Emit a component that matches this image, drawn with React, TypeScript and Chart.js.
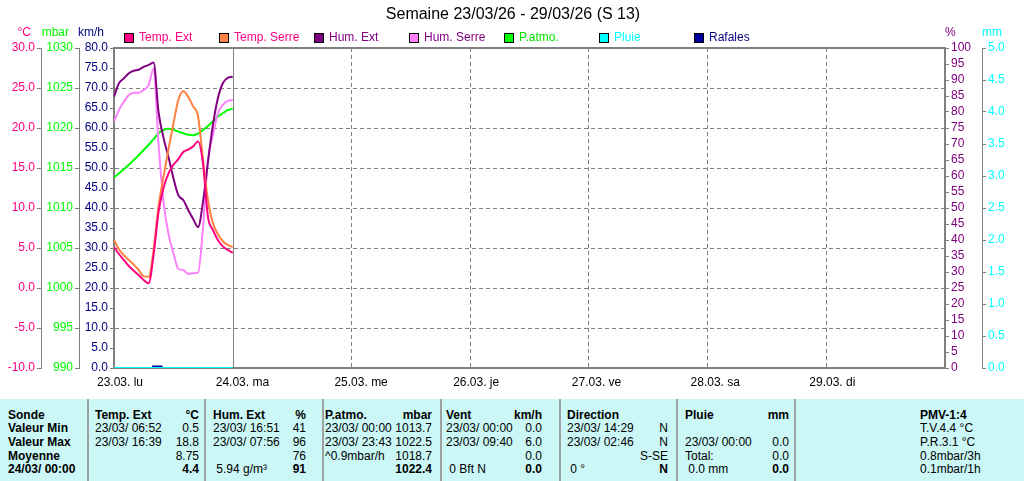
import React, { useEffect, useRef } from "react";
import { Chart, registerables } from "chart.js";

Chart.register(...registerables);

// ---------- data ----------
const chartTitle = "Semaine 23/03/26 - 29/03/26 (S 13)";
const dayLabels = ["23.03. lu", "24.03. ma", "25.03. me", "26.03. je", "27.03. ve", "28.03. sa", "29.03. di"];

const hours = [0, 1, 2, 3, 4, 5, 6, 7, 8, 9, 10, 11, 12, 13, 14, 15, 16, 17, 18, 19, 20, 21, 22, 23, 24];
const tempExt = [5.1, 4.25, 3.5, 2.75, 2.15, 1.6, 1.0, 0.6, 4.1, 9.5, 12.5, 14.3, 15.4, 16.1, 17.0, 17.3, 17.7, 18.3, 15.5, 8.9, 7.25, 6.0, 5.2, 4.75, 4.4];
const tempSerre = [6.0, 4.85, 4.1, 3.5, 2.9, 2.25, 1.45, 1.4, 4.75, 10.2, 13.9, 17.3, 20.5, 23.5, 24.6, 23.9, 22.7, 21.4, 16.0, 11.0, 8.1, 6.75, 5.85, 5.4, 5.1];
const humExt = [84.8, 89, 90.5, 92.1, 92.9, 93.2, 94.1, 94.7, 95.5, 80, 72, 66, 59.4, 54, 52.5, 49.4, 46.6, 44, 52, 64.5, 76, 84.3, 89, 90.7, 91];
const humSerre = [77, 80.6, 83.2, 85.3, 86, 86, 86.9, 88.4, 93.5, 70, 52, 42, 36, 31, 30.6, 29.4, 29.6, 29.8, 44, 65, 72.8, 79.6, 82.2, 83.5, 83.75];
const pAtmo = [1013.8, 1014.35, 1014.85, 1015.4, 1016.0, 1016.6, 1017.25, 1017.9, 1018.6, 1019.35, 1019.75, 1019.9, 1019.8, 1019.55, 1019.35, 1019.15, 1019.1, 1019.3, 1019.75, 1020.25, 1020.8, 1021.4, 1021.85, 1022.25, 1022.4];
const pluie = [0, 0, 0, 0, 0, 0, 0, 0, 0, 0, 0, 0, 0, 0, 0, 0, 0, 0, 0, 0, 0, 0, 0, 0, 0];
const rafalesHours = [0, 7.8, 7.9, 9.6, 9.7, 24];
const rafales = [0, 0, 0.4, 0.4, 0, 0];

const seriesNames = ["Temp. Ext", "Temp. Serre", "Hum. Ext", "Hum. Serre", "P.atmo.", "Pluie", "Rafales"];
const seriesColors = ["#FF0080", "#FF8040", "#800080", "#FF80FF", "#00FF00", "#00FFFF", "#0000A0"];
const legendTextColors = ["#FF0080", "#FF0080", "#800080", "#800080", "#00E000", "#00FFFF", "#000080"];

// stats table
const tableRowLabels = ["Sonde", "Valeur Min", "Valeur Max", "Moyenne", "24/03/ 00:00"];
const tableTempExt = [["Temp. Ext", "°C"], ["23/03/ 06:52", "0.5"], ["23/03/ 16:39", "18.8"], ["", "8.75"], ["", "4.4"]];
const tableHumExt = [["Hum. Ext", "%"], ["23/03/ 16:51", "41"], ["23/03/ 07:56", "96"], ["", "76"], [" 5.94 g/m³", "91"]];
const tablePAtmo = [["P.atmo.", "mbar"], ["23/03/ 00:00", "1013.7"], ["23/03/ 23:43", "1022.5"], ["^0.9mbar/h", "1018.7"], ["", "1022.4"]];
const tableVent = [["Vent", "km/h"], ["23/03/ 00:00", "0.0"], ["23/03/ 09:40", "6.0"], ["", "0.0"], [" 0 Bft N", "0.0"]];
const tableDirection = [["Direction", ""], ["23/03/ 14:29", "N"], ["23/03/ 02:46", "N"], ["", "S-SE"], [" 0 °", "N"]];
const tablePluie = [["Pluie", "mm"], ["", ""], ["23/03/ 00:00", "0.0"], ["Total:", "0.0"], [" 0.0 mm", "0.0"]];
const tablePmv = ["PMV-1:4", "T.V.4.4 °C", "P.R.3.1 °C", "0.8mbar/3h", "0.1mbar/1h"];

// ---------- styling ----------
const GRAY = "#808080";
const SANS = "'Liberation Sans', Arial, sans-serif";
const tickFont = { family: SANS, size: 12 };

const axisUnits = [
  { id: "yT", text: "°C", color: "#FF0080" },
  { id: "yP", text: "mbar", color: "#00FF00" },
  { id: "yW", text: "km/h", color: "#000080" },
  { id: "yH", text: "%", color: "#800080" },
  { id: "yR", text: "mm", color: "#00FFFF" },
];

const pts = (xs: number[], ys: number[]) => xs.map((x, i) => ({ x, y: ys[i] }));

const decorPlugin = {
  id: "decor",
  beforeDatasetsDraw(chart: any) {
    const { ctx, chartArea, scales } = chart;
    ctx.save();
    const x = Math.round(scales.x.getPixelForValue(24)) + 0.5;
    ctx.strokeStyle = GRAY;
    ctx.lineWidth = 1;
    ctx.beginPath();
    ctx.moveTo(x, chartArea.top);
    ctx.lineTo(x, chartArea.bottom);
    ctx.stroke();
    ctx.lineWidth = 2;
    ctx.beginPath();
    ctx.moveTo(chartArea.left - 1, chartArea.top);
    ctx.lineTo(chartArea.right + 1, chartArea.top);
    ctx.stroke();
    ctx.restore();
  },
  afterDraw(chart: any) {
    const { ctx, scales } = chart;
    ctx.save();
    ctx.font = `16px ${SANS}`;
    ctx.fillStyle = "#000";
    ctx.textAlign = "center";
    ctx.textBaseline = "middle";
    ctx.fillText(chartTitle, 513, 15);
    ctx.font = `12px ${SANS}`;
    axisUnits.forEach((u) => {
      const s = scales[u.id];
      ctx.fillStyle = u.color;
      if (s.position === "left") {
        ctx.textAlign = "right";
        ctx.fillText(u.text, s.right - 10, 33);
      } else {
        ctx.textAlign = "left";
        ctx.fillText(u.text, s.left, 33);
      }
    });
    chart.data.datasets.forEach((ds: any, i: number) => {
      const x = 124 + 95 * i;
      ctx.fillStyle = ds.borderColor;
      ctx.fillRect(x, 33, 10, 10);
      ctx.strokeStyle = "#000";
      ctx.lineWidth = 1;
      ctx.strokeRect(x + 0.5, 33.5, 9, 9);
      ctx.fillStyle = legendTextColors[i];
      ctx.textAlign = "left";
      ctx.fillText(ds.label, x + 15, 38);
    });
    ctx.restore();
  },
};

function yAxis(opts: any) {
  return {
    type: "linear",
    position: opts.position,
    weight: opts.weight,
    min: opts.min,
    max: opts.max,
    ticks: {
      stepSize: opts.step,
      autoSkip: false,
      color: opts.color,
      font: tickFont,
      padding: 2,
      callback: opts.fmt,
    },
    grid: {
      drawOnChartArea: !!opts.gridColor,
      color: opts.gridColor || GRAY,
      tickColor: GRAY,
      tickLength: 4,
      drawTicks: true,
      lineWidth: 1,
    },
    border: { color: GRAY, width: opts.borderWidth, dash: [4, 3] },
    afterFit: (s: any) => {
      s.width = opts.width;
    },
  };
}

export default function App() {
  const ref = useRef<HTMLCanvasElement>(null);

  useEffect(() => {
    if (!ref.current) return;
    const mk = (i: number, data: any[], axis: string, extra: any = {}) => ({
      label: seriesNames[i],
      data,
      yAxisID: axis,
      borderColor: seriesColors[i],
      backgroundColor: seriesColors[i],
      borderWidth: 2,
      pointRadius: 0,
      fill: false,
      cubicInterpolationMode: "monotone",
      ...extra,
    });
    const chart = new Chart(ref.current, {
      type: "line",
      data: {
        datasets: [
          mk(0, pts(hours, tempExt), "yT"),
          mk(1, pts(hours, tempSerre), "yT"),
          mk(2, pts(hours, humExt), "yH"),
          mk(3, pts(hours, humSerre), "yH"),
          mk(4, pts(hours, pAtmo), "yP"),
          mk(5, pts(hours, pluie), "yR", { cubicInterpolationMode: "default", tension: 0 }),
          mk(6, pts(rafalesHours, rafales), "yW", { cubicInterpolationMode: "default", tension: 0 }),
        ] as any,
      },
      options: {
        animation: false,
        responsive: false,
        devicePixelRatio: 1,
        layout: { padding: { top: 48, left: 0, right: 0, bottom: 0 } },
        plugins: {
          legend: { display: false },
          title: { display: false },
          tooltip: { enabled: false },
        },
        scales: {
          x: {
            type: "linear",
            position: "bottom",
            min: 0,
            max: 168,
            ticks: {
              stepSize: 24,
              autoSkip: false,
              maxRotation: 0,
              minRotation: 0,
              align: "start",
              labelOffset: -17,
              padding: 7,
              color: "#000",
              font: tickFont,
              callback: (v: any) => dayLabels[Math.round(Number(v) / 24)] ?? "",
            },
            grid: {
              color: (c: any) => (c.tick && c.tick.value >= 48 && c.tick.value <= 144 ? GRAY : "rgba(0,0,0,0)"),
              drawTicks: false,
              lineWidth: 1,
            },
            border: { color: GRAY, width: 2, dash: [4, 3] },
            afterFit: (s: any) => {
              s.height = 30;
            },
          },
          yW: yAxis({
            position: "left", weight: 0, min: 0, max: 80, step: 5, color: "#000080",
            fmt: (v: any) => Number(v).toFixed(1), borderWidth: 2, width: 35,
            gridColor: (c: any) =>
              c.tick && c.tick.value % 10 === 0 && c.tick.value > 0 && c.tick.value < 80 ? GRAY : "rgba(0,0,0,0)",
          }),
          yP: yAxis({
            position: "left", weight: 1, min: 990, max: 1030, step: 5, color: "#00FF00",
            fmt: (v: any) => String(Math.round(Number(v))), borderWidth: 1, width: 38,
          }),
          yT: yAxis({
            position: "left", weight: 2, min: -10, max: 30, step: 5, color: "#FF0080",
            fmt: (v: any) => Number(v).toFixed(1), borderWidth: 1, width: 41,
          }),
          yH: yAxis({
            position: "right", weight: 0, min: 0, max: 100, step: 5, color: "#800080",
            fmt: (v: any) => String(Math.round(Number(v))), borderWidth: 2, width: 37,
          }),
          yR: yAxis({
            position: "right", weight: 1, min: 0, max: 5, step: 0.5, color: "#00FFFF",
            fmt: (v: any) => Number(v).toFixed(1), borderWidth: 1, width: 42,
          }),
        } as any,
      },
      plugins: [decorPlugin],
    });
    return () => chart.destroy();
  }, []);

  const columns = [
    { rows: tableTempExt, sep: 88, left: 95, right: 199 },
    { rows: tableHumExt, sep: 205, left: 213, right: 306 },
    { rows: tablePAtmo, sep: 323, left: 325, right: 432 },
    { rows: tableVent, sep: 441, left: 446, right: 542 },
    { rows: tableDirection, sep: 560, left: 567, right: 668 },
    { rows: tablePluie, sep: 677, left: 685, right: 789 },
  ];
  const rowTop = (r: number) => 9.7 + 13.6 * r;
  const textStyle = (r: number, bold: boolean): React.CSSProperties => ({
    position: "absolute",
    top: rowTop(r),
    height: 13.6,
    lineHeight: "13.6px",
    whiteSpace: "pre",
    fontWeight: bold ? "bold" : "normal",
  });

  return (
    <div style={{ position: "absolute", left: 0, top: 0, width: 1024, height: 481, overflow: "hidden", background: "#fff" }}>
      <canvas ref={ref} width={1024} height={398} style={{ display: "block", width: 1024, height: 398 }} />
      <div
        style={{
          position: "absolute", left: 0, top: 399, width: 1024, height: 82,
          background: "#CCF7F7", fontFamily: SANS, fontSize: 12, color: "#000",
        }}
      >
        {tableRowLabels.map((t, r) => (
          <span key={"l" + r} style={{ ...textStyle(r, true), left: 8 }}>{t}</span>
        ))}
        {columns.map((c, ci) => (
          <React.Fragment key={"c" + ci}>
            <div style={{ position: "absolute", left: c.sep - 1, top: 0, width: 2, height: 82, background: "#A0A0A0" }} />
            {c.rows.map((pair, r) => (
              <React.Fragment key={r}>
                <span style={{ ...textStyle(r, r === 0), left: c.left }}>{pair[0]}</span>
                <span style={{ ...textStyle(r, r === 0 || r === 4), right: 1024 - c.right }}>{pair[1]}</span>
              </React.Fragment>
            ))}
          </React.Fragment>
        ))}
        <div style={{ position: "absolute", left: 794, top: 0, width: 2, height: 82, background: "#A0A0A0" }} />
        {tablePmv.map((t, r) => (
          <span key={"p" + r} style={{ ...textStyle(r, r === 0), left: 920 }}>{t}</span>
        ))}
      </div>
    </div>
  );
}
